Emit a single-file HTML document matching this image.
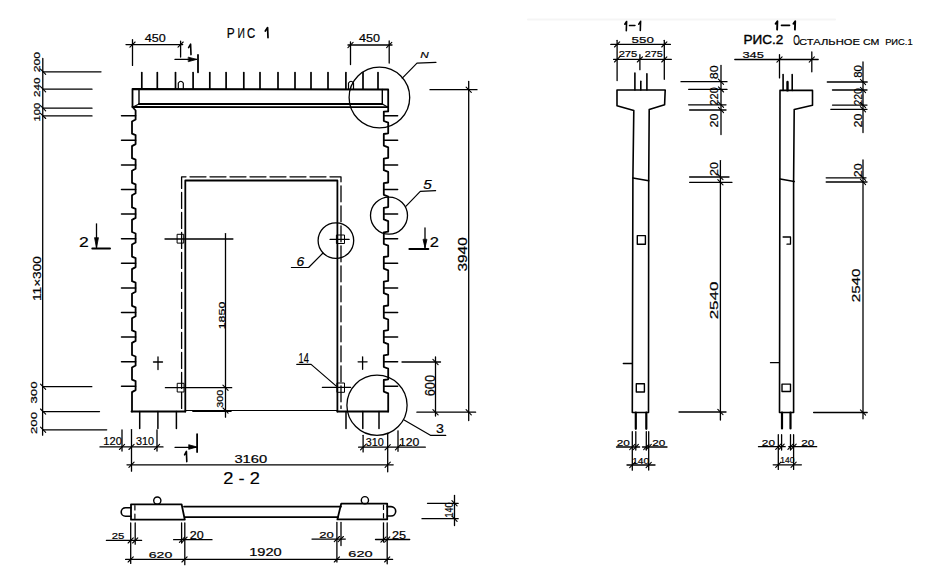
<!DOCTYPE html>
<html><head><meta charset="utf-8"><title>drawing</title>
<style>
html,body{margin:0;padding:0;background:#fff;width:937px;height:585px;overflow:hidden}
svg{display:block}
svg line,svg path,svg rect,svg circle{stroke:#000;fill:none;stroke-linecap:round;stroke-linejoin:round}
svg .f{fill:#000}
svg text{font-family:"Liberation Sans",sans-serif;fill:#000;stroke:#000;stroke-width:0.2px;text-anchor:middle}
</style></head><body>
<svg width="937" height="585" viewBox="0 0 937 585">
<line x1="528" y1="19.5" x2="835" y2="19.5" stroke-width="2" style="stroke:#f5f5f5"/>
<path d="M132.5,107.0 L132.5,89.0 L388.2,89.5 L388.2,111.3" stroke-width="1.8"/>
<line x1="139.0" y1="89.0" x2="139.0" y2="104.0" stroke-width="1.4"/>
<line x1="382.3" y1="89.5" x2="382.3" y2="104.0" stroke-width="1.4"/>
<line x1="139.0" y1="104.0" x2="382.3" y2="104.0" stroke-width="1.8"/>
<line x1="133.0" y1="107.0" x2="388.0" y2="107.2" stroke-width="1.8"/>
<line x1="139.0" y1="104.0" x2="133.0" y2="107.0" stroke-width="1.2"/>
<line x1="382.3" y1="104.0" x2="388.0" y2="107.2" stroke-width="1.2"/>
<line x1="141.8" y1="72.5" x2="141.8" y2="89.0" stroke-width="1.7"/>
<line x1="157.3" y1="72.5" x2="157.3" y2="89.0" stroke-width="1.7"/>
<line x1="175.5" y1="72.5" x2="175.5" y2="89.0" stroke-width="1.7"/>
<line x1="193.1" y1="72.5" x2="193.1" y2="89.0" stroke-width="1.7"/>
<line x1="209.8" y1="72.5" x2="209.8" y2="89.0" stroke-width="1.7"/>
<line x1="226.1" y1="72.5" x2="226.1" y2="89.0" stroke-width="1.7"/>
<line x1="243.8" y1="72.5" x2="243.8" y2="89.0" stroke-width="1.7"/>
<line x1="260.0" y1="72.5" x2="260.0" y2="89.0" stroke-width="1.7"/>
<line x1="278.0" y1="72.5" x2="278.0" y2="89.0" stroke-width="1.7"/>
<line x1="295.0" y1="72.5" x2="295.0" y2="89.0" stroke-width="1.7"/>
<line x1="311.0" y1="72.5" x2="311.0" y2="89.0" stroke-width="1.7"/>
<line x1="328.0" y1="72.5" x2="328.0" y2="89.0" stroke-width="1.7"/>
<line x1="345.9" y1="72.5" x2="345.9" y2="89.0" stroke-width="1.7"/>
<line x1="363.0" y1="72.5" x2="363.0" y2="89.0" stroke-width="1.7"/>
<line x1="378.0" y1="72.5" x2="378.0" y2="89.0" stroke-width="1.7"/>
<path d="M178.3,89 L178.3,83 Q180.8,79.5 183.3,83 L183.3,89" stroke-width="1.2"/>
<path d="M348.5,89 L348.5,83 Q351.0,79.5 353.5,83 L353.5,89" stroke-width="1.2"/>
<path d="M132.5,107.0 L135.6,110.5 L135.6,119.5 L132.0,121.5 L132.0,133.6 L135.6,135.1 L135.6,144.1 L132.0,146.1 L132.0,158.2 L135.6,159.7 L135.6,168.7 L132.0,170.7 L132.0,182.8 L135.6,184.3 L135.6,193.3 L132.0,195.3 L132.0,207.4 L135.6,208.9 L135.6,217.9 L132.0,219.9 L132.0,232.0 L135.6,233.5 L135.6,242.5 L132.0,244.5 L132.0,256.6 L135.6,258.1 L135.6,267.1 L132.0,269.1 L132.0,281.2 L135.6,282.7 L135.6,291.7 L132.0,293.7 L132.0,305.8 L135.6,307.3 L135.6,316.3 L132.0,318.3 L132.0,330.4 L135.6,331.9 L135.6,340.9 L132.0,342.9 L132.0,355.0 L135.6,356.5 L135.6,365.5 L132.0,367.5 L132.0,379.6 L135.6,381.1 L135.6,390.1 L132.0,392.1 L132.0,411.5" stroke-width="1.8"/>
<line x1="121.5" y1="115.7" x2="135.6" y2="115.7" stroke-width="1.5"/>
<line x1="121.5" y1="140.3" x2="135.6" y2="140.3" stroke-width="1.5"/>
<line x1="121.5" y1="164.9" x2="135.6" y2="164.9" stroke-width="1.5"/>
<line x1="121.5" y1="189.5" x2="135.6" y2="189.5" stroke-width="1.5"/>
<line x1="121.5" y1="214.1" x2="135.6" y2="214.1" stroke-width="1.5"/>
<line x1="121.5" y1="238.7" x2="135.6" y2="238.7" stroke-width="1.5"/>
<line x1="121.5" y1="263.3" x2="135.6" y2="263.3" stroke-width="1.5"/>
<line x1="121.5" y1="287.9" x2="135.6" y2="287.9" stroke-width="1.5"/>
<line x1="121.5" y1="312.5" x2="135.6" y2="312.5" stroke-width="1.5"/>
<line x1="121.5" y1="337.1" x2="135.6" y2="337.1" stroke-width="1.5"/>
<line x1="121.5" y1="361.7" x2="135.6" y2="361.7" stroke-width="1.5"/>
<line x1="121.5" y1="386.3" x2="135.6" y2="386.3" stroke-width="1.5"/>
<path d="M388.2,111.3 L383.8,111.6 L383.8,121.0 L388.2,122.7 L388.2,133.3 L383.8,134.0 L383.8,145.6 L388.2,147.3 L388.2,157.9 L383.8,158.6 L383.8,170.2 L388.2,171.9 L388.2,182.5 L383.8,183.2 L383.8,194.8 L388.2,196.5 L388.2,207.1 L383.8,207.8 L383.8,219.4 L388.2,221.1 L388.2,231.7 L383.8,232.4 L383.8,244.0 L388.2,245.7 L388.2,256.3 L383.8,257.0 L383.8,268.6 L388.2,270.3 L388.2,280.9 L383.8,281.6 L383.8,293.2 L388.2,294.9 L388.2,305.5 L383.8,306.2 L383.8,317.8 L388.2,319.5 L388.2,330.1 L383.8,330.8 L383.8,342.4 L388.2,344.1 L388.2,354.7 L383.8,355.4 L383.8,367.0 L388.2,368.7 L388.2,379.3 L383.8,380.0 L383.8,391.6 L388.2,393.3 L388.2,411.5" stroke-width="1.8"/>
<line x1="383.8" y1="115.7" x2="397.6" y2="115.7" stroke-width="1.5"/>
<line x1="383.8" y1="140.3" x2="397.6" y2="140.3" stroke-width="1.5"/>
<line x1="383.8" y1="164.9" x2="397.6" y2="164.9" stroke-width="1.5"/>
<line x1="383.8" y1="189.5" x2="397.6" y2="189.5" stroke-width="1.5"/>
<line x1="383.8" y1="214.1" x2="397.6" y2="214.1" stroke-width="1.5"/>
<line x1="383.8" y1="238.7" x2="397.6" y2="238.7" stroke-width="1.5"/>
<line x1="383.8" y1="263.3" x2="397.6" y2="263.3" stroke-width="1.5"/>
<line x1="383.8" y1="287.9" x2="397.6" y2="287.9" stroke-width="1.5"/>
<line x1="383.8" y1="312.5" x2="397.6" y2="312.5" stroke-width="1.5"/>
<line x1="383.8" y1="337.1" x2="397.6" y2="337.1" stroke-width="1.5"/>
<line x1="383.8" y1="361.7" x2="397.6" y2="361.7" stroke-width="1.5"/>
<line x1="383.8" y1="386.3" x2="397.6" y2="386.3" stroke-width="1.5"/>
<line x1="131.5" y1="411.5" x2="185.3" y2="411.5" stroke-width="1.8"/>
<line x1="185.3" y1="410.5" x2="337.4" y2="410.5" stroke-width="1.2"/>
<line x1="337.4" y1="411.5" x2="388.2" y2="411.5" stroke-width="1.8"/>
<path d="M185.3,411.5 L185.3,180.5 L337.4,180.5 L337.4,411.5" stroke-width="1.8"/>
<path d="M181.6,408.4 L181.6,176.8 L341,176.8 L341,408.4" stroke-width="1.3" stroke-dasharray="16,4"/>
<line x1="139.7" y1="411.5" x2="139.7" y2="428.5" stroke-width="1.5"/>
<line x1="157.9" y1="411.5" x2="157.9" y2="428.5" stroke-width="1.5"/>
<line x1="176.4" y1="411.5" x2="176.4" y2="428.5" stroke-width="1.5"/>
<line x1="346.0" y1="411.5" x2="346.0" y2="428.5" stroke-width="1.5"/>
<line x1="362.8" y1="411.5" x2="362.8" y2="428.5" stroke-width="1.5"/>
<line x1="379.0" y1="411.5" x2="379.0" y2="428.5" stroke-width="1.5"/>
<rect x="177.5" y="234.3" width="6.2" height="8.8" stroke-width="1.0"/>
<line x1="165.0" y1="239.0" x2="232.9" y2="239.0" stroke-width="1.3"/>
<rect x="177.6" y="383.3" width="6.4" height="8.7" stroke-width="1.0"/>
<line x1="165.4" y1="387.7" x2="231.7" y2="387.7" stroke-width="1.3"/>
<rect x="336.8" y="235.0" width="7.7" height="8.5" stroke-width="1.0"/>
<line x1="330.1" y1="239.4" x2="349.1" y2="239.4" stroke-width="1.3"/>
<rect x="337.3" y="383.0" width="7.2" height="9.3" stroke-width="1.0"/>
<line x1="322.4" y1="387.4" x2="350.6" y2="387.4" stroke-width="1.3"/>
<line x1="153.5" y1="362.0" x2="162.5" y2="362.0" stroke-width="1.3"/>
<line x1="158.0" y1="357.0" x2="158.0" y2="369.5" stroke-width="1.3"/>
<line x1="358.1" y1="361.8" x2="367.1" y2="361.8" stroke-width="1.3"/>
<line x1="362.6" y1="356.8" x2="362.6" y2="369.3" stroke-width="1.3"/>
<line x1="225.5" y1="233.6" x2="225.5" y2="417.2" stroke-width="1.3"/>
<line x1="222.9" y1="385.1" x2="228.1" y2="390.3" stroke-width="1.1"/>
<line x1="222.9" y1="407.9" x2="228.1" y2="413.1" stroke-width="1.1"/>
<line x1="192.9" y1="411.3" x2="231.0" y2="411.3" stroke-width="1.5"/>
<text transform="translate(221.6,315.5) rotate(-90)" x="0" y="3.0" font-size="8.33" textLength="27.6" lengthAdjust="spacingAndGlyphs" font-weight="normal">1850</text>
<text transform="translate(220.0,398.7) rotate(-90)" x="0" y="3.2" font-size="9.03" textLength="18.0" lengthAdjust="spacingAndGlyphs" font-weight="normal">300</text>
<circle cx="379.4" cy="97.5" r="30.3" stroke-width="1.3"/>
<path d="M402.3,78.2 L417.0,63.2 L436.0,62.3" stroke-width="1.2"/>
<text x="424.5" y="57.6" font-size="9.17" textLength="8.5" lengthAdjust="spacingAndGlyphs" font-weight="normal" font-style="italic">N</text>
<circle cx="389.0" cy="215.6" r="18.5" stroke-width="1.3"/>
<path d="M405.8,206.3 L420.3,191.3 L435.6,190.7" stroke-width="1.2"/>
<text x="427.6" y="188.8" font-size="12.08" textLength="8.5" lengthAdjust="spacingAndGlyphs" font-weight="normal" font-style="italic">5</text>
<circle cx="335.9" cy="240.6" r="17.8" stroke-width="1.3"/>
<path d="M323.0,253.0 L308.6,267.5 L291.4,267.5" stroke-width="1.2"/>
<text x="300.3" y="265.9" font-size="12.08" textLength="7.7" lengthAdjust="spacingAndGlyphs" font-weight="normal" font-style="italic">6</text>
<circle cx="377.0" cy="405.2" r="30.1" stroke-width="1.3"/>
<path d="M404.1,419.9 L430.4,435.3 L445.8,435.3" stroke-width="1.2"/>
<text x="440.0" y="433.3" font-size="13.33" textLength="7.9" lengthAdjust="spacingAndGlyphs" font-weight="normal">3</text>
<path d="M336.3,386.1 L311.1,364.4 L296.8,364.4" stroke-width="1.2"/>
<text x="303.7" y="362.5" font-size="14.86" textLength="10.3" lengthAdjust="spacingAndGlyphs" font-weight="normal">14</text>
<line x1="96.5" y1="223.8" x2="96.5" y2="247.7" stroke-width="1.3"/>
<path d="M94.6,238 L96.5,247.7 L98.4,238 Z" class="f" stroke-width="0.8"/>
<line x1="92.3" y1="248.5" x2="110.0" y2="248.5" stroke-width="2"/>
<text x="84.0" y="246.6" font-size="15.42" textLength="9.8" lengthAdjust="spacingAndGlyphs" font-weight="normal">2</text>
<line x1="425.0" y1="228.0" x2="425.0" y2="247.7" stroke-width="1.3"/>
<path d="M423.1,239.7 L425,247.7 L426.9,239.7 Z" class="f" stroke-width="0.8"/>
<line x1="409.4" y1="249.1" x2="428.3" y2="249.1" stroke-width="2"/>
<text x="434.3" y="247.0" font-size="14.17" textLength="9.2" lengthAdjust="spacingAndGlyphs" font-weight="normal">2</text>
<line x1="175.0" y1="59.4" x2="196.6" y2="59.4" stroke-width="1.3"/>
<path d="M188.6,57.2 L196.6,59.4 L188.6,61.6 Z" class="f" stroke-width="0.8"/>
<line x1="198.0" y1="55.0" x2="198.0" y2="72.3" stroke-width="1.8"/>
<path d="M188.6,47.6 L190.6,44.2 L191.0,54.6" stroke-width="1.6"/>
<line x1="175.0" y1="447.3" x2="196.2" y2="447.3" stroke-width="1.3"/>
<path d="M189,444.8 L197,447 L189,449.2 Z" class="f" stroke-width="0.8"/>
<line x1="197.1" y1="434.1" x2="197.1" y2="452.0" stroke-width="1.8"/>
<path d="M184.6,454.8 L186.4,451.4 L186.8,461.6" stroke-width="1.6"/>
<line x1="126.0" y1="44.6" x2="182.7" y2="44.6" stroke-width="1.3"/>
<line x1="132.5" y1="39.7" x2="132.5" y2="65.4" stroke-width="1.3"/>
<line x1="180.6" y1="41.1" x2="180.6" y2="57.0" stroke-width="1.3"/>
<line x1="129.9" y1="47.2" x2="135.1" y2="42.0" stroke-width="1.1"/>
<line x1="178.0" y1="47.2" x2="183.2" y2="42.0" stroke-width="1.1"/>
<text x="155.3" y="42.0" font-size="10.97" textLength="21.0" lengthAdjust="spacingAndGlyphs" font-weight="normal">450</text>
<line x1="348.0" y1="45.0" x2="392.0" y2="45.0" stroke-width="1.3"/>
<line x1="350.5" y1="42.0" x2="350.5" y2="64.6" stroke-width="1.3"/>
<line x1="389.2" y1="41.0" x2="389.2" y2="63.0" stroke-width="1.3"/>
<line x1="347.9" y1="47.6" x2="353.1" y2="42.4" stroke-width="1.1"/>
<line x1="386.6" y1="47.6" x2="391.8" y2="42.4" stroke-width="1.1"/>
<text x="369.5" y="42.2" font-size="10.97" textLength="21.0" lengthAdjust="spacingAndGlyphs" font-weight="normal">450</text>
<text x="230.8" y="37.6" font-size="13.89" textLength="8.0" lengthAdjust="spacingAndGlyphs" font-weight="normal">Р</text>
<text x="241.2" y="37.6" font-size="13.89" textLength="7.4" lengthAdjust="spacingAndGlyphs" font-weight="normal">И</text>
<text x="251.2" y="37.6" font-size="13.89" textLength="8.2" lengthAdjust="spacingAndGlyphs" font-weight="normal">С</text>
<path d="M265.3,31.0 L267.6,27.6 L268.0,37.6" stroke-width="1.7"/>
<line x1="42.8" y1="58.5" x2="42.6" y2="435.2" stroke-width="1.3"/>
<line x1="43.1" y1="71.8" x2="101.0" y2="71.8" stroke-width="1.3"/>
<line x1="43.1" y1="89.2" x2="92.0" y2="89.2" stroke-width="1.3"/>
<line x1="43.1" y1="108.2" x2="92.0" y2="108.2" stroke-width="1.3"/>
<line x1="43.1" y1="115.9" x2="92.0" y2="115.9" stroke-width="1.3"/>
<line x1="43.1" y1="386.7" x2="91.8" y2="386.7" stroke-width="1.3"/>
<line x1="43.1" y1="411.6" x2="99.5" y2="411.6" stroke-width="1.3"/>
<line x1="43.1" y1="429.8" x2="106.7" y2="429.8" stroke-width="1.3"/>
<line x1="40.5" y1="69.2" x2="45.7" y2="74.4" stroke-width="1.1"/>
<line x1="40.5" y1="86.6" x2="45.7" y2="91.8" stroke-width="1.1"/>
<line x1="40.5" y1="105.6" x2="45.7" y2="110.8" stroke-width="1.1"/>
<line x1="40.5" y1="113.3" x2="45.7" y2="118.5" stroke-width="1.1"/>
<line x1="40.5" y1="384.1" x2="45.7" y2="389.3" stroke-width="1.1"/>
<line x1="40.5" y1="409.0" x2="45.7" y2="414.2" stroke-width="1.1"/>
<line x1="40.5" y1="427.2" x2="45.7" y2="432.4" stroke-width="1.1"/>
<text transform="translate(36.3,62.1) rotate(-90)" x="0" y="3.2" font-size="9.03" textLength="20.2" lengthAdjust="spacingAndGlyphs" font-weight="normal">200</text>
<text transform="translate(36.3,87.2) rotate(-90)" x="0" y="3.2" font-size="9.03" textLength="19.5" lengthAdjust="spacingAndGlyphs" font-weight="normal">240</text>
<text transform="translate(36.5,112.1) rotate(-90)" x="0" y="3.4" font-size="9.44" textLength="18.8" lengthAdjust="spacingAndGlyphs" font-weight="normal">100</text>
<text transform="translate(37.2,278.6) rotate(-90)" x="0" y="4.0" font-size="11.11" textLength="44.8" lengthAdjust="spacingAndGlyphs" font-weight="normal">11×300</text>
<text transform="translate(33.2,392.5) rotate(-90)" x="0" y="3.5" font-size="9.86" textLength="22.0" lengthAdjust="spacingAndGlyphs" font-weight="normal">300</text>
<text transform="translate(33.2,423.0) rotate(-90)" x="0" y="3.5" font-size="9.86" textLength="22.0" lengthAdjust="spacingAndGlyphs" font-weight="normal">200</text>
<line x1="430.0" y1="89.7" x2="477.0" y2="89.7" stroke-width="1.3"/>
<line x1="468.7" y1="81.5" x2="468.7" y2="420.5" stroke-width="1.3"/>
<line x1="466.1" y1="87.1" x2="471.3" y2="92.3" stroke-width="1.1"/>
<line x1="416.9" y1="412.2" x2="475.6" y2="412.2" stroke-width="1.3"/>
<line x1="466.1" y1="409.6" x2="471.3" y2="414.8" stroke-width="1.1"/>
<text transform="translate(462.4,254.4) rotate(-90)" x="0" y="4.5" font-size="12.50" textLength="34.3" lengthAdjust="spacingAndGlyphs" font-weight="normal">3940</text>
<line x1="402.0" y1="362.0" x2="440.5" y2="362.0" stroke-width="1.3"/>
<line x1="435.5" y1="357.0" x2="435.5" y2="416.0" stroke-width="1.3"/>
<line x1="432.9" y1="359.4" x2="438.1" y2="364.6" stroke-width="1.1"/>
<line x1="432.9" y1="409.6" x2="438.1" y2="414.8" stroke-width="1.1"/>
<text transform="translate(429.6,385.6) rotate(-90)" x="0" y="5.0" font-size="13.89" textLength="21.3" lengthAdjust="spacingAndGlyphs" font-weight="normal">600</text>
<line x1="100.0" y1="446.9" x2="163.0" y2="446.9" stroke-width="1.3"/>
<line x1="122.0" y1="430.0" x2="122.0" y2="451.0" stroke-width="1.3"/>
<line x1="131.5" y1="429.6" x2="131.5" y2="471.2" stroke-width="1.3"/>
<line x1="157.0" y1="430.0" x2="157.0" y2="451.0" stroke-width="1.3"/>
<line x1="119.4" y1="449.5" x2="124.6" y2="444.3" stroke-width="1.1"/>
<line x1="128.9" y1="449.5" x2="134.1" y2="444.3" stroke-width="1.1"/>
<line x1="154.4" y1="449.5" x2="159.6" y2="444.3" stroke-width="1.1"/>
<text x="112.6" y="445.0" font-size="11.67" textLength="18.6" lengthAdjust="spacingAndGlyphs" font-weight="normal">120</text>
<text x="145.0" y="445.0" font-size="11.67" textLength="18.0" lengthAdjust="spacingAndGlyphs" font-weight="normal">310</text>
<line x1="358.6" y1="447.2" x2="425.3" y2="447.2" stroke-width="1.3"/>
<line x1="363.1" y1="435.3" x2="363.1" y2="451.9" stroke-width="1.3"/>
<line x1="387.7" y1="433.3" x2="387.7" y2="471.8" stroke-width="1.3"/>
<line x1="398.0" y1="430.8" x2="398.0" y2="451.3" stroke-width="1.3"/>
<line x1="360.5" y1="449.8" x2="365.7" y2="444.6" stroke-width="1.1"/>
<line x1="385.1" y1="449.8" x2="390.3" y2="444.6" stroke-width="1.1"/>
<line x1="395.4" y1="449.8" x2="400.6" y2="444.6" stroke-width="1.1"/>
<text x="374.7" y="446.2" font-size="11.67" textLength="18.0" lengthAdjust="spacingAndGlyphs" font-weight="normal">310</text>
<text x="409.2" y="446.2" font-size="11.67" textLength="20.5" lengthAdjust="spacingAndGlyphs" font-weight="normal">120</text>
<line x1="127.0" y1="464.8" x2="393.2" y2="464.8" stroke-width="1.3"/>
<line x1="128.9" y1="467.4" x2="134.1" y2="462.2" stroke-width="1.1"/>
<line x1="385.1" y1="467.4" x2="390.3" y2="462.2" stroke-width="1.1"/>
<text x="250.8" y="462.6" font-size="11.81" textLength="32.8" lengthAdjust="spacingAndGlyphs" font-weight="normal">3160</text>
<text x="241.6" y="483.6" font-size="15.69" textLength="36.5" lengthAdjust="spacingAndGlyphs" font-weight="normal">2 - 2</text>
<path d="M131.0,504.3 L181.6,504.3 L184.8,519.7 L131.0,519.7 Z" stroke-width="1.8"/>
<path d="M341.2,503.7 L387.2,503.7 L387.2,519.4 L337.4,519.4 Z" stroke-width="1.8"/>
<line x1="184.0" y1="506.6" x2="341.0" y2="506.6" stroke-width="1.8"/>
<line x1="184.8" y1="517.2" x2="337.8" y2="517.2" stroke-width="1.8"/>
<path d="M134.9,505.5 L134.9,518.5" stroke-width="1.2" stroke-dasharray="4.5,4"/>
<path d="M383.5,505 L383.5,518.5" stroke-width="1.2" stroke-dasharray="4.5,4"/>
<path d="M131,507.7 L125.5,507.7 A4.3,4.3 0 0 0 125.5,516.3 L131,516.3" stroke-width="1.6"/>
<path d="M387.2,506.6 L391,506.6 A4.7,4.7 0 0 1 391,516 L387.2,516" stroke-width="1.6"/>
<circle cx="157.3" cy="500.6" r="3.6" stroke-width="1.4"/>
<circle cx="364.9" cy="500.2" r="3.6" stroke-width="1.4"/>
<line x1="106.4" y1="540.4" x2="141.6" y2="540.4" stroke-width="1.3"/>
<line x1="130.7" y1="523.0" x2="130.7" y2="563.4" stroke-width="1.3"/>
<line x1="135.2" y1="523.0" x2="135.2" y2="544.2" stroke-width="1.3"/>
<line x1="128.1" y1="543.0" x2="133.3" y2="537.8" stroke-width="1.1"/>
<line x1="132.6" y1="543.0" x2="137.8" y2="537.8" stroke-width="1.1"/>
<text x="118.0" y="539.0" font-size="9.72" textLength="12.6" lengthAdjust="spacingAndGlyphs" font-weight="normal">25</text>
<line x1="173.6" y1="539.7" x2="212.0" y2="539.7" stroke-width="1.3"/>
<line x1="181.6" y1="523.0" x2="181.6" y2="543.0" stroke-width="1.3"/>
<line x1="184.8" y1="523.0" x2="184.8" y2="564.7" stroke-width="1.3"/>
<line x1="179.4" y1="542.3" x2="184.6" y2="537.1" stroke-width="1.1"/>
<line x1="181.9" y1="542.3" x2="187.1" y2="537.1" stroke-width="1.1"/>
<text x="196.7" y="538.8" font-size="10.28" textLength="13.9" lengthAdjust="spacingAndGlyphs" font-weight="normal">20</text>
<line x1="312.0" y1="539.1" x2="345.3" y2="539.1" stroke-width="1.3"/>
<line x1="336.9" y1="522.5" x2="336.9" y2="562.0" stroke-width="1.3"/>
<line x1="341.0" y1="522.5" x2="341.0" y2="545.5" stroke-width="1.3"/>
<line x1="334.3" y1="541.7" x2="339.5" y2="536.5" stroke-width="1.1"/>
<line x1="338.2" y1="541.7" x2="343.4" y2="536.5" stroke-width="1.1"/>
<text x="326.4" y="537.8" font-size="9.72" textLength="14.5" lengthAdjust="spacingAndGlyphs" font-weight="normal">20</text>
<line x1="375.5" y1="539.5" x2="409.7" y2="539.5" stroke-width="1.3"/>
<line x1="383.5" y1="522.8" x2="383.5" y2="542.0" stroke-width="1.3"/>
<line x1="387.2" y1="522.8" x2="387.2" y2="563.8" stroke-width="1.3"/>
<line x1="380.9" y1="542.1" x2="386.1" y2="536.9" stroke-width="1.1"/>
<line x1="384.6" y1="542.1" x2="389.8" y2="536.9" stroke-width="1.1"/>
<text x="399.1" y="538.5" font-size="10.42" textLength="14.1" lengthAdjust="spacingAndGlyphs" font-weight="normal">25</text>
<line x1="125.6" y1="559.4" x2="392.6" y2="559.4" stroke-width="1.3"/>
<line x1="128.1" y1="562.0" x2="133.3" y2="556.8" stroke-width="1.1"/>
<line x1="181.9" y1="562.0" x2="187.1" y2="556.8" stroke-width="1.1"/>
<line x1="334.3" y1="562.0" x2="339.5" y2="556.8" stroke-width="1.1"/>
<line x1="384.6" y1="562.0" x2="389.8" y2="556.8" stroke-width="1.1"/>
<text x="160.5" y="558.3" font-size="9.72" textLength="23.5" lengthAdjust="spacingAndGlyphs" font-weight="normal">620</text>
<text x="265.5" y="556.4" font-size="10.69" textLength="32.5" lengthAdjust="spacingAndGlyphs" font-weight="normal">1920</text>
<text x="360.5" y="557.0" font-size="9.86" textLength="24.3" lengthAdjust="spacingAndGlyphs" font-weight="normal">620</text>
<line x1="427.5" y1="503.3" x2="458.2" y2="503.3" stroke-width="1.3"/>
<line x1="422.0" y1="518.7" x2="458.2" y2="518.7" stroke-width="1.3"/>
<line x1="454.5" y1="495.5" x2="454.5" y2="525.5" stroke-width="1.3"/>
<line x1="451.9" y1="500.7" x2="457.1" y2="505.9" stroke-width="1.1"/>
<line x1="451.9" y1="516.1" x2="457.1" y2="521.3" stroke-width="1.1"/>
<text transform="translate(449.3,509.9) rotate(-90)" x="0" y="4.1" font-size="11.39" textLength="15.0" lengthAdjust="spacingAndGlyphs" font-weight="normal">140</text>
<path d="M624.8,24.2 L626.6,21.5 L626.3,30.7" stroke-width="1.6"/>
<line x1="629.5" y1="25.6" x2="635.0" y2="25.4" stroke-width="1.5"/>
<path d="M638.8,24.2 L640.6,21.3 L640.3,30.5" stroke-width="1.6"/>
<line x1="610.8" y1="44.4" x2="670.4" y2="44.4" stroke-width="1.3"/>
<line x1="614.5" y1="47.0" x2="619.7" y2="41.8" stroke-width="1.1"/>
<line x1="661.7" y1="47.0" x2="666.9" y2="41.8" stroke-width="1.1"/>
<text x="642.7" y="43.0" font-size="9.44" textLength="22.2" lengthAdjust="spacingAndGlyphs" font-weight="normal">550</text>
<line x1="613.6" y1="59.4" x2="671.3" y2="59.4" stroke-width="1.3"/>
<line x1="614.5" y1="62.0" x2="619.7" y2="56.8" stroke-width="1.1"/>
<line x1="637.3" y1="62.0" x2="642.5" y2="56.8" stroke-width="1.1"/>
<line x1="661.7" y1="62.0" x2="666.9" y2="56.8" stroke-width="1.1"/>
<line x1="617.1" y1="40.3" x2="617.1" y2="80.6" stroke-width="1.3"/>
<line x1="664.3" y1="40.3" x2="664.3" y2="79.3" stroke-width="1.3"/>
<line x1="639.9" y1="54.7" x2="639.9" y2="69.7" stroke-width="1.3"/>
<text x="628.0" y="57.4" font-size="9.44" textLength="18.7" lengthAdjust="spacingAndGlyphs" font-weight="normal">275</text>
<text x="653.7" y="57.4" font-size="9.44" textLength="18.1" lengthAdjust="spacingAndGlyphs" font-weight="normal">275</text>
<line x1="634.9" y1="73.1" x2="634.9" y2="90.0" stroke-width="1.6"/>
<line x1="640.8" y1="81.3" x2="640.8" y2="90.0" stroke-width="1.6"/>
<line x1="646.9" y1="73.8" x2="646.9" y2="90.0" stroke-width="1.6"/>
<path d="M633.8,110.6 L617.0,105.8 L617.0,90.0 L665.2,90.0 L664.6,104.8 L649.2,109.6 L648.7,180.8 L648.5,412.5 L632.3,412.5 L632.9,177.9 L633.8,110.6 Z" stroke-width="1.6"/>
<line x1="632.9" y1="177.9" x2="648.7" y2="180.8" stroke-width="1.5"/>
<rect x="637.3" y="235.6" width="8.1" height="8.6" stroke-width="1.4"/>
<rect x="636.3" y="383.7" width="8.1" height="8.3" stroke-width="1.4"/>
<line x1="623.3" y1="363.5" x2="632.0" y2="363.5" stroke-width="1.3"/>
<line x1="635.8" y1="412.5" x2="635.8" y2="428.8" stroke-width="2.2"/>
<line x1="646.3" y1="412.5" x2="646.3" y2="428.8" stroke-width="2.2"/>
<line x1="721.0" y1="65.4" x2="721.0" y2="134.6" stroke-width="1.3"/>
<line x1="681.0" y1="81.7" x2="727.0" y2="81.7" stroke-width="1.3"/>
<line x1="688.7" y1="89.4" x2="727.0" y2="89.4" stroke-width="1.3"/>
<line x1="688.6" y1="104.8" x2="726.0" y2="104.8" stroke-width="1.3"/>
<line x1="689.6" y1="110.0" x2="726.0" y2="110.0" stroke-width="1.3"/>
<line x1="718.4" y1="79.1" x2="723.6" y2="84.3" stroke-width="1.1"/>
<line x1="718.4" y1="86.8" x2="723.6" y2="92.0" stroke-width="1.1"/>
<line x1="718.4" y1="102.2" x2="723.6" y2="107.4" stroke-width="1.1"/>
<line x1="718.4" y1="107.4" x2="723.6" y2="112.6" stroke-width="1.1"/>
<text transform="translate(714.0,72.2) rotate(-90)" x="0" y="4.0" font-size="11.11" textLength="13.9" lengthAdjust="spacingAndGlyphs" font-weight="normal">80</text>
<text transform="translate(714.0,96.3) rotate(-90)" x="0" y="4.0" font-size="11.11" textLength="18.5" lengthAdjust="spacingAndGlyphs" font-weight="normal">220</text>
<text transform="translate(714.0,120.5) rotate(-90)" x="0" y="4.0" font-size="11.11" textLength="13.9" lengthAdjust="spacingAndGlyphs" font-weight="normal">20</text>
<line x1="720.4" y1="160.6" x2="720.4" y2="420.0" stroke-width="1.3"/>
<line x1="689.6" y1="177.0" x2="729.0" y2="177.0" stroke-width="1.3"/>
<line x1="689.6" y1="182.3" x2="732.0" y2="182.3" stroke-width="1.3"/>
<line x1="717.8" y1="174.4" x2="723.0" y2="179.6" stroke-width="1.1"/>
<line x1="717.8" y1="179.7" x2="723.0" y2="184.9" stroke-width="1.1"/>
<text transform="translate(714.0,169.0) rotate(-90)" x="0" y="4.0" font-size="11.11" textLength="13.9" lengthAdjust="spacingAndGlyphs" font-weight="normal">20</text>
<line x1="679.0" y1="412.0" x2="726.0" y2="412.0" stroke-width="1.3"/>
<line x1="717.8" y1="409.4" x2="723.0" y2="414.6" stroke-width="1.1"/>
<text transform="translate(714.3,300.5) rotate(-90)" x="0" y="4.0" font-size="11.11" textLength="37.7" lengthAdjust="spacingAndGlyphs" font-weight="normal">2540</text>
<line x1="616.5" y1="447.0" x2="639.6" y2="447.0" stroke-width="1.3"/>
<line x1="642.5" y1="447.0" x2="667.0" y2="447.0" stroke-width="1.3"/>
<line x1="632.3" y1="431.7" x2="632.3" y2="470.2" stroke-width="1.3"/>
<line x1="635.8" y1="431.7" x2="635.8" y2="450.0" stroke-width="1.3"/>
<line x1="646.3" y1="431.7" x2="646.3" y2="450.0" stroke-width="1.3"/>
<line x1="648.7" y1="431.7" x2="648.7" y2="470.0" stroke-width="1.3"/>
<line x1="629.7" y1="449.6" x2="634.9" y2="444.4" stroke-width="1.1"/>
<line x1="633.2" y1="449.6" x2="638.4" y2="444.4" stroke-width="1.1"/>
<line x1="643.7" y1="449.6" x2="648.9" y2="444.4" stroke-width="1.1"/>
<line x1="646.1" y1="449.6" x2="651.3" y2="444.4" stroke-width="1.1"/>
<text x="623.3" y="445.8" font-size="9.72" textLength="13.1" lengthAdjust="spacingAndGlyphs" font-weight="normal">20</text>
<text x="658.8" y="445.8" font-size="9.72" textLength="13.1" lengthAdjust="spacingAndGlyphs" font-weight="normal">20</text>
<line x1="627.0" y1="465.0" x2="655.0" y2="465.0" stroke-width="1.3"/>
<line x1="629.7" y1="467.6" x2="634.9" y2="462.4" stroke-width="1.1"/>
<line x1="646.1" y1="467.6" x2="651.3" y2="462.4" stroke-width="1.1"/>
<text x="640.7" y="463.5" font-size="9.72" textLength="17.1" lengthAdjust="spacingAndGlyphs" font-weight="normal">140</text>
<path d="M775.6,23.8 L777.4,21.3 L777.1,29.6" stroke-width="1.9"/>
<line x1="781.5" y1="25.3" x2="789.5" y2="25.3" stroke-width="1.7"/>
<path d="M793.4,23.8 L795.2,21.3 L794.9,29.6" stroke-width="1.9"/>
<text x="763.5" y="44.4" font-size="13.33" textLength="39.8" lengthAdjust="spacingAndGlyphs" font-weight="normal" style="stroke-width:0.4px">РИС.2</text>
<text x="796.6" y="45.2" font-size="15.28" textLength="6.5" lengthAdjust="spacingAndGlyphs" font-weight="normal">О</text>
<text x="829.5" y="45.3" font-size="9.58" textLength="60.8" lengthAdjust="spacingAndGlyphs" font-weight="normal">СТАЛЬНОЕ</text>
<text x="871.1" y="45.3" font-size="9.58" textLength="16.4" lengthAdjust="spacingAndGlyphs" font-weight="normal">СМ</text>
<text x="898.9" y="45.3" font-size="9.58" textLength="27.5" lengthAdjust="spacingAndGlyphs" font-weight="normal">РИС.1</text>
<line x1="734.8" y1="59.5" x2="818.2" y2="59.5" stroke-width="1.3"/>
<line x1="776.9" y1="62.1" x2="782.1" y2="56.9" stroke-width="1.1"/>
<line x1="809.2" y1="62.1" x2="814.4" y2="56.9" stroke-width="1.1"/>
<line x1="779.5" y1="54.7" x2="779.5" y2="77.9" stroke-width="1.3"/>
<line x1="811.8" y1="51.9" x2="811.8" y2="71.8" stroke-width="1.3"/>
<text x="753.2" y="58.1" font-size="9.44" textLength="21.5" lengthAdjust="spacingAndGlyphs" font-weight="normal">345</text>
<line x1="783.1" y1="74.5" x2="783.1" y2="90.4" stroke-width="1.6"/>
<line x1="787.5" y1="82.0" x2="787.5" y2="90.4" stroke-width="2.4"/>
<line x1="792.2" y1="74.5" x2="792.2" y2="90.4" stroke-width="1.6"/>
<path d="M780.0,90.4 L812.5,90.4 L812.5,105.3 L794.2,109.5 L793.6,182.0 L793.6,412.5 L779.5,412.5 L780.0,90.4 Z" stroke-width="1.6"/>
<line x1="780.3" y1="178.9" x2="794.2" y2="181.6" stroke-width="1.5"/>
<path d="M783.1,237.0 L790.5,237.0 L790.5,244.2 L787.0,244.2" stroke-width="1.3"/>
<rect x="782.0" y="384.1" width="8.5" height="7.4" stroke-width="1.4"/>
<line x1="770.5" y1="362.7" x2="778.9" y2="362.7" stroke-width="1.3"/>
<line x1="782.0" y1="412.5" x2="782.0" y2="428.4" stroke-width="2.2"/>
<line x1="790.5" y1="412.5" x2="790.5" y2="428.4" stroke-width="2.2"/>
<line x1="863.0" y1="62.0" x2="863.0" y2="132.6" stroke-width="1.3"/>
<line x1="827.3" y1="82.0" x2="867.2" y2="82.0" stroke-width="1.3"/>
<line x1="832.5" y1="90.0" x2="867.0" y2="90.0" stroke-width="1.3"/>
<line x1="832.5" y1="105.1" x2="867.0" y2="105.1" stroke-width="1.3"/>
<line x1="830.8" y1="109.3" x2="867.0" y2="109.3" stroke-width="1.3"/>
<line x1="860.4" y1="79.4" x2="865.6" y2="84.6" stroke-width="1.1"/>
<line x1="860.4" y1="87.4" x2="865.6" y2="92.6" stroke-width="1.1"/>
<line x1="860.4" y1="102.5" x2="865.6" y2="107.7" stroke-width="1.1"/>
<line x1="860.4" y1="106.7" x2="865.6" y2="111.9" stroke-width="1.1"/>
<text transform="translate(857.5,71.5) rotate(-90)" x="0" y="4.0" font-size="11.11" textLength="12.7" lengthAdjust="spacingAndGlyphs" font-weight="normal">80</text>
<text transform="translate(857.5,96.9) rotate(-90)" x="0" y="4.0" font-size="11.11" textLength="17.4" lengthAdjust="spacingAndGlyphs" font-weight="normal">220</text>
<text transform="translate(857.5,120.5) rotate(-90)" x="0" y="4.0" font-size="11.11" textLength="13.9" lengthAdjust="spacingAndGlyphs" font-weight="normal">20</text>
<line x1="863.0" y1="160.0" x2="863.0" y2="418.8" stroke-width="1.3"/>
<line x1="826.2" y1="177.8" x2="866.0" y2="177.8" stroke-width="1.3"/>
<line x1="826.2" y1="182.0" x2="867.0" y2="182.0" stroke-width="1.3"/>
<line x1="860.4" y1="175.2" x2="865.6" y2="180.4" stroke-width="1.1"/>
<line x1="860.4" y1="179.4" x2="865.6" y2="184.6" stroke-width="1.1"/>
<text transform="translate(857.5,170.2) rotate(-90)" x="0" y="4.0" font-size="11.11" textLength="13.9" lengthAdjust="spacingAndGlyphs" font-weight="normal">20</text>
<line x1="813.6" y1="412.5" x2="867.2" y2="412.5" stroke-width="1.3"/>
<line x1="860.4" y1="409.9" x2="865.6" y2="415.1" stroke-width="1.1"/>
<text transform="translate(856.3,285.4) rotate(-90)" x="0" y="4.0" font-size="11.11" textLength="33.7" lengthAdjust="spacingAndGlyphs" font-weight="normal">2540</text>
<line x1="758.5" y1="446.7" x2="785.2" y2="446.7" stroke-width="1.3"/>
<line x1="788.8" y1="446.7" x2="816.7" y2="446.7" stroke-width="1.3"/>
<line x1="778.3" y1="434.7" x2="778.3" y2="469.4" stroke-width="1.3"/>
<line x1="781.6" y1="434.7" x2="781.6" y2="450.0" stroke-width="1.3"/>
<line x1="790.5" y1="434.7" x2="790.5" y2="450.0" stroke-width="1.3"/>
<line x1="793.6" y1="434.7" x2="793.6" y2="469.4" stroke-width="1.3"/>
<line x1="775.7" y1="449.3" x2="780.9" y2="444.1" stroke-width="1.1"/>
<line x1="779.0" y1="449.3" x2="784.2" y2="444.1" stroke-width="1.1"/>
<line x1="787.9" y1="449.3" x2="793.1" y2="444.1" stroke-width="1.1"/>
<line x1="791.0" y1="449.3" x2="796.2" y2="444.1" stroke-width="1.1"/>
<text x="768.4" y="445.5" font-size="9.72" textLength="13.1" lengthAdjust="spacingAndGlyphs" font-weight="normal">20</text>
<text x="807.7" y="445.5" font-size="9.72" textLength="13.1" lengthAdjust="spacingAndGlyphs" font-weight="normal">20</text>
<line x1="773.2" y1="464.8" x2="801.4" y2="464.8" stroke-width="1.3"/>
<line x1="775.7" y1="467.4" x2="780.9" y2="462.2" stroke-width="1.1"/>
<line x1="791.0" y1="467.4" x2="796.2" y2="462.2" stroke-width="1.1"/>
<text x="787.3" y="463.2" font-size="9.03" textLength="14.0" lengthAdjust="spacingAndGlyphs" font-weight="normal">140</text>
</svg>
</body></html>
